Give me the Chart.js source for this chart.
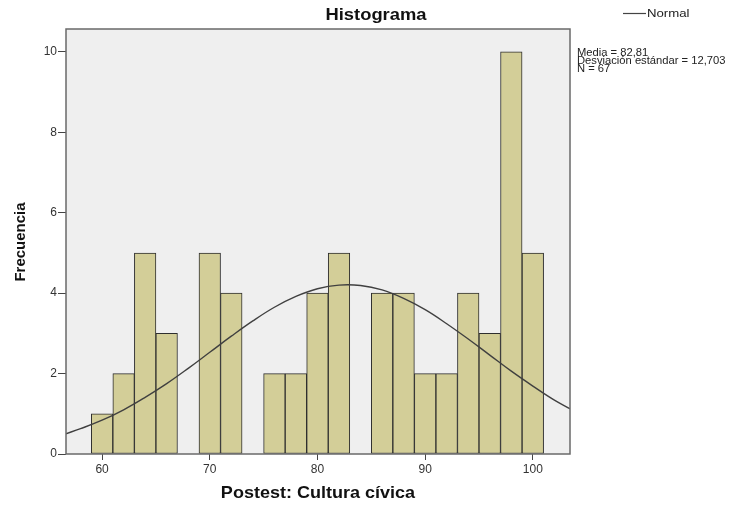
<!DOCTYPE html>
<html>
<head>
<meta charset="utf-8">
<script src="https://cdn.jsdelivr.net/npm/chart.js@4"></script>
<style>
  html, body { margin: 0; padding: 0; background: #fff; }
  #wrap { width: 734px; height: 506px; }
</style>
</head>
<body>
<div id="wrap"><canvas id="hist" width="734" height="506"></canvas></div>
<script>
// bin centres (width 2) and counts
const binCenters = [60, 62, 64, 66, 68, 70, 72, 74, 76, 78, 80, 82, 84, 86, 88, 90, 92, 94, 96, 98, 100];
const binCounts  = [1, 2, 5, 3, 0, 5, 4, 0, 2, 2, 4, 5, 0, 4, 4, 2, 2, 4, 3, 10, 5];

// normal curve
const curveX = [56.6, 58, 60, 62, 64, 66, 68, 70, 72, 74, 76, 78, 80, 82, 84, 86, 88, 90, 92, 94, 96, 98, 100, 102, 103.5];
const curveY = [0.50, 0.63, 0.84, 1.10, 1.41, 1.75, 2.13, 2.53, 2.93, 3.31, 3.65, 3.92, 4.11, 4.20, 4.19, 4.08, 3.87, 3.59, 3.24, 2.86, 2.46, 2.06, 1.69, 1.34, 1.12];

const xTicks = [60, 70, 80, 90, 100];
const yTicks = [0, 2, 4, 6, 8, 10];

const statsLines = ["Media = 82,81", "Desviación estándar = 12,703", "N = 67"];

const FONT = "'Liberation Sans', Arial, sans-serif";

// text stretched sideways like the SPSS export
function wideText(ctx, txt, x, y, sx, align) {
  ctx.save();
  ctx.translate(x, y);
  ctx.scale(sx, 1);
  ctx.textAlign = align;
  ctx.fillText(txt, 0, 0);
  ctx.restore();
}

// background, frame and all the loose texts
const decor = {
  id: "decor",
  beforeDatasetsDraw(chart) {
    const { ctx, chartArea: a } = chart;
    ctx.save();
    ctx.fillStyle = "#efefef";
    ctx.fillRect(a.left, a.top, a.right - a.left, a.bottom - a.top);
    ctx.restore();
  },
  afterDraw(chart) {
    const { ctx, chartArea: a } = chart;
    ctx.save();
    ctx.strokeStyle = "#6a6a6a";
    ctx.lineWidth = 1.5;
    ctx.strokeRect(a.left, a.top, a.right - a.left, a.bottom - a.top);

    ctx.fillStyle = "#111";
    ctx.textBaseline = "middle";
    ctx.font = "bold 17px " + FONT;
    wideText(ctx, "Histograma", 376, 15, 1.08, "center");

    ctx.font = "bold 17px " + FONT;
    wideText(ctx, "Postest: Cultura cívica", 318, 493, 1.06, "center");

    ctx.save();
    ctx.translate(21, 242);
    ctx.rotate(-Math.PI / 2);
    ctx.font = "bold 15px " + FONT;
    ctx.textAlign = "center";
    ctx.fillText("Frecuencia", 0, 0);
    ctx.restore();

    // legend
    ctx.strokeStyle = "#444";
    ctx.lineWidth = 1.2;
    ctx.beginPath();
    ctx.moveTo(623, 13.5);
    ctx.lineTo(646, 13.5);
    ctx.stroke();
    ctx.font = "11px " + FONT;
    ctx.fillStyle = "#222";
    wideText(ctx, "Normal", 647, 14, 1.2, "left");

    // stats box
    ctx.font = "10px " + FONT;
    ctx.fillStyle = "#222";
    statsLines.forEach((s, i) => wideText(ctx, s, 577, 53 + i * 8, 1.12, "left"));
    ctx.restore();
  }
};

new Chart(document.getElementById("hist"), {
  data: {
    datasets: [
      {
        type: "line",
        order: 0,
        data: curveX.map((x, i) => ({ x: x, y: curveY[i] })),
        borderColor: "#404040",
        borderWidth: 1.4,
        pointRadius: 0,
        tension: 0.4,
        fill: false
      },
      {
        type: "bar",
        order: 1,
        data: binCenters.map((x, i) => ({ x: x, y: binCounts[i] })),
        backgroundColor: "#d3ce98",
        borderColor: "#2e2e2e",
        borderWidth: 1,
        borderSkipped: false,
        barPercentage: 1,
        categoryPercentage: 1
      }
    ]
  },
  options: {
    responsive: false,
    animation: false,
    events: [],
    layout: { padding: { top: 29, right: 164, bottom: 0, left: 0 } },
    plugins: { legend: { display: false }, title: { display: false }, tooltip: { enabled: false } },
    scales: {
      x: {
        type: "linear",
        offset: false,
        min: 56.65,
        max: 103.45,
        afterFit(s) { s.height = 52; },
        afterBuildTicks(s) { s.ticks = xTicks.map(v => ({ value: v })); },
        border: { display: false },
        grid: { offset: false, drawOnChartArea: false, drawTicks: true, tickLength: 6, color: "#444" },
        ticks: { color: "#333", font: { size: 12, family: FONT }, padding: 2, maxRotation: 0 }
      },
      y: {
        min: 0,
        max: 10.57,
        afterFit(s) { s.width = 66; },
        afterBuildTicks(s) { s.ticks = yTicks.map(v => ({ value: v })); },
        border: { display: false },
        grid: { drawOnChartArea: false, drawTicks: true, tickLength: 8, color: "#444" },
        ticks: { color: "#333", font: { size: 12, family: FONT }, padding: 1 }
      }
    }
  },
  plugins: [decor]
});
</script>
</body>
</html>
